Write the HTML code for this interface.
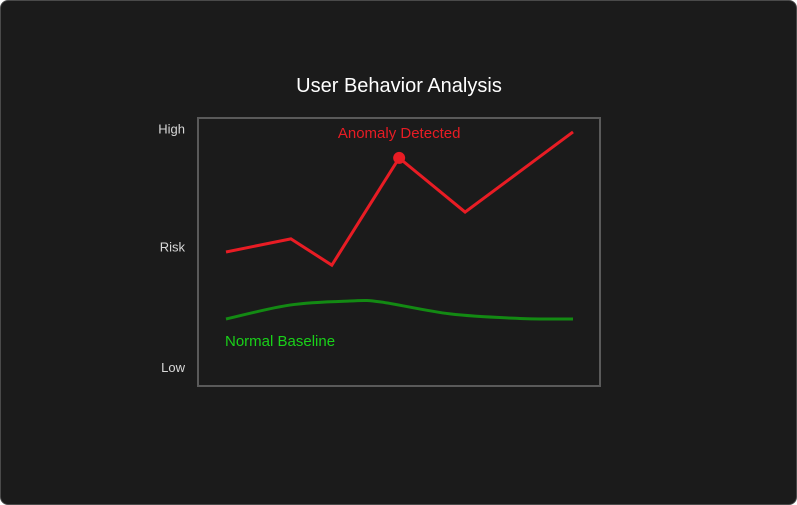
<!DOCTYPE html>
<html><head><meta charset="utf-8"><style>
html,body{margin:0;padding:0;background:#fff;}
#card{position:absolute;left:0;top:0;width:795px;height:503px;background:#1b1b1b;border:1px solid #4a4a4a;border-radius:8px;}
svg{position:absolute;left:0;top:0;}
text{font-family:"Liberation Sans",sans-serif;}
</style></head><body>
<div id="card"></div>
<svg id="chart" width="797" height="505">
<text x="399" y="92" fill="#ffffff" font-size="20" text-anchor="middle">User Behavior Analysis</text>
<rect x="198" y="118" width="402" height="268" fill="none" stroke="#5a5a5a" stroke-width="2"/>
<g id="marks"></g>
</svg>
<script>
const yTickLabels=["Low","Risk","High"];
const yTickValues=[7,52,96];
const riskX=[0,18.7,30.5,49.9,68.9,100];
const riskY=[50,54.9,45.1,85.1,64.9,94.8];
const baseX=[0,18.4,35.7,44.4,64.6,84.7,100];
const baseY=[25,30.2,31.7,31.4,26.9,25.2,25];
const anomalyIndex=3;
const NS="http://www.w3.org/2000/svg";
function sx(t){return 226+t*3.47;}
function sy(v){return 386-v*2.68;}
const svg=document.getElementById('chart');
const g=document.getElementById('marks');
function mk(tag,attrs){const e=document.createElementNS(NS,tag);for(const k in attrs)e.setAttribute(k,attrs[k]);return e;}
yTickLabels.forEach((lab,i)=>{
 const t=mk('text',{x:185,y:sy(yTickValues[i])+5,fill:'#d8d8d8','font-size':13,'text-anchor':'end'});
 
 
 t.textContent=lab;g.appendChild(t);
});
const bp=baseX.map((x,i)=>[sx(x),sy(baseY[i])]);
let d='M'+bp[0][0]+','+bp[0][1];
for(let i=0;i<bp.length-1;i++){
 const p0=bp[Math.max(0,i-1)],p1=bp[i],p2=bp[i+1],p3=bp[Math.min(bp.length-1,i+2)];
 const c1=[p1[0]+(p2[0]-p0[0])/6,p1[1]+(p2[1]-p0[1])/6];
 const c2=[p2[0]-(p3[0]-p1[0])/6,p2[1]-(p3[1]-p1[1])/6];
 d+=' C'+c1+' '+c2+' '+p2;
}
const base=mk('path',{d:d,fill:'none',stroke:'#138a13','stroke-width':3});


g.appendChild(base);
const risk=mk('polyline',{points:riskX.map((x,i)=>sx(x)+','+sy(riskY[i])).join(' '),fill:'none',stroke:'#e81c24','stroke-width':3,'stroke-linejoin':'miter'});


g.appendChild(risk);
const dot=mk('circle',{cx:sx(riskX[anomalyIndex]),cy:sy(riskY[anomalyIndex]),r:6,fill:'#e81c24'});


g.appendChild(dot);
const al=mk('text',{x:sx(riskX[anomalyIndex]),y:138,fill:'#e81c24','font-size':15,'text-anchor':'middle'});


al.textContent='Anomaly Detected';g.appendChild(al);
const bl=mk('text',{x:225,y:346,fill:'#19d119','font-size':15});


bl.textContent='Normal Baseline';g.appendChild(bl);
</script>
</body></html>
